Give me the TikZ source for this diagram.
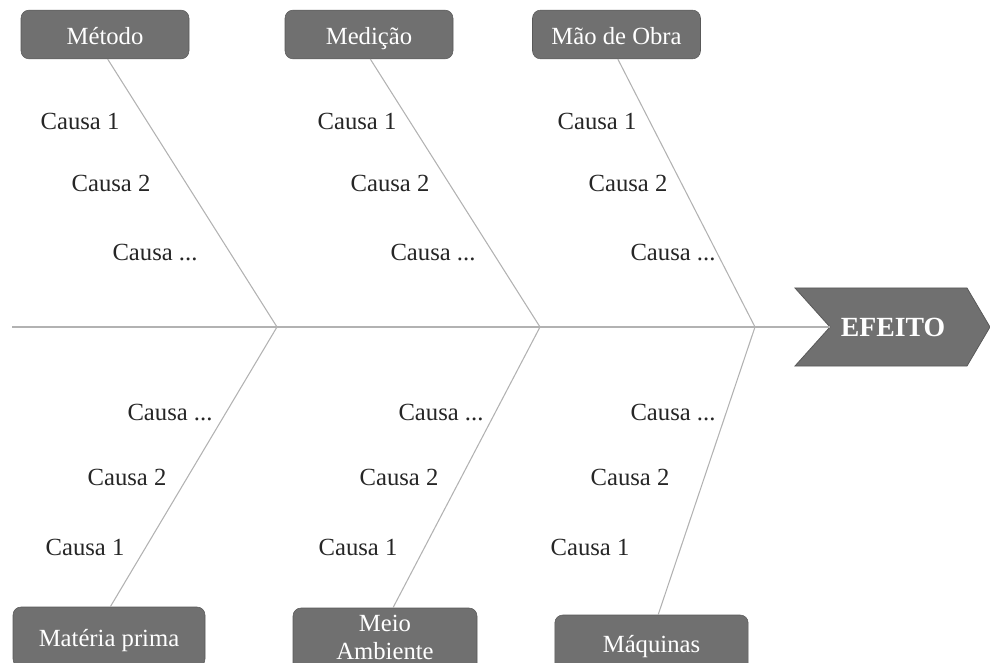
\documentclass[tikz,border=0pt]{standalone}
\usepackage{fontspec}
\setmainfont{Liberation Serif}
\begin{document}
\begin{tikzpicture}[x=0.75pt,y=-0.75pt,
  catbox/.style={draw=gray!70!black,fill=black!56,rounded corners=6pt,text=white,
    font=\fontsize{18.5}{24}\selectfont,inner sep=0pt,align=center},
  onebox/.style={catbox,text height=16pt,text depth=1.6pt},
  bone/.style={draw=black!30,line width=0.8pt},
  causa/.style={font=\fontsize{18.5}{22}\selectfont,inner sep=0pt,text=black!85}]
\useasboundingbox (0,0) rectangle (990,663);
\clip (0,0) rectangle (990,663);
% spine junctions
\coordinate (s0) at (12,327);
\coordinate (j1) at (277,327);
\coordinate (j2) at (540,327);
\coordinate (j3) at (755,327);
\coordinate (sE) at (830,327);
% effect arrow
\fill[black!56,draw=gray!70!black,line width=0.6pt] (795,288) -- (967,288) -- (990,327) -- (967,366) -- (795,366) -- (sE) -- cycle;
\node[text=white,font=\bfseries\fontsize{20.8}{24}\selectfont] (eft) at (893,327) {EFEITO};
\draw[bone,line width=1pt] (s0) -- (sE);
% top boxes
\node[onebox,minimum width=126pt,minimum height=36.5pt] (m1) at (105,34.5) {Método};
\node[onebox,minimum width=126pt,minimum height=36.5pt] (m2) at (369,34.5) {Medição};
\node[onebox,minimum width=126pt,minimum height=36.5pt] (m3) at (616.5,34.5) {Mão de Obra};
% bottom boxes
\node[onebox,minimum width=144pt,minimum height=45pt] (b1) at (109,637) {Matéria prima};
\node[catbox,minimum width=138pt,minimum height=48pt] (b2) at (385,640) {};
\node[text=white,font=\fontsize{18.5}{21}\selectfont,inner sep=0pt,align=center] (b2t) at (385,637) {Meio\\Ambiente};
\node[onebox,minimum width=145pt,minimum height=42pt] (b3) at (651.5,643) {Máquinas};
% bones
\draw[bone] ([xshift=2pt]m1.south) -- (j1);
\draw[bone] ([xshift=1pt]m2.south) -- (j2);
\draw[bone] ([xshift=1pt]m3.south) -- (j3);
\draw[bone] (j1) -- ([xshift=1pt]b1.north);
\draw[bone] (j2) -- ([xshift=6pt]b2.north);
\draw[bone] (j3) -- ([xshift=5pt]b3.north);
% causes top
\node[causa] (c11) at (80,121) {Causa 1};
\node[causa] (c12) at (111,183) {Causa 2};
\node[causa] (c13) at (155,253) {Causa ...};
\node[causa] (c21) at (357,121) {Causa 1};
\node[causa] (c22) at (390,183) {Causa 2};
\node[causa] (c23) at (433,253) {Causa ...};
\node[causa] (c31) at (597,121) {Causa 1};
\node[causa] (c32) at (628,183) {Causa 2};
\node[causa] (c33) at (673,253) {Causa ...};
% causes bottom
\node[causa] (d13) at (170,413) {Causa ...};
\node[causa] (d12) at (127,477) {Causa 2};
\node[causa] (d11) at (85,547) {Causa 1};
\node[causa] (d23) at (441,413) {Causa ...};
\node[causa] (d22) at (399,477) {Causa 2};
\node[causa] (d21) at (358,547) {Causa 1};
\node[causa] (d33) at (673,413) {Causa ...};
\node[causa] (d32) at (630,477) {Causa 2};
\node[causa] (d31) at (590,547) {Causa 1};
\end{tikzpicture}
\end{document}
